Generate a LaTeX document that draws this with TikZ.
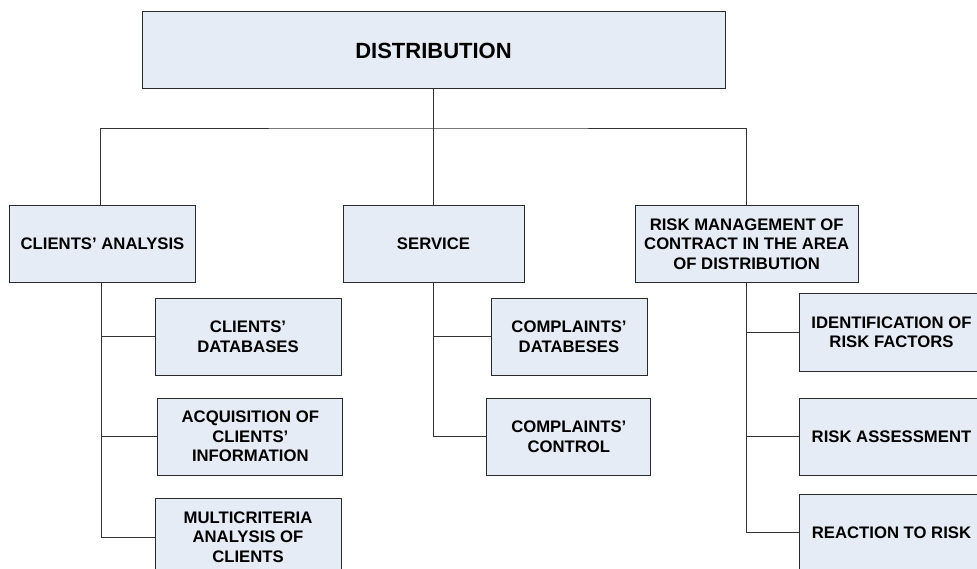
\documentclass[tikz,border=0pt]{standalone}
\usepackage{fontspec}
\setmainfont{Liberation Sans}
\definecolor{boxfill}{HTML}{E6ECF6}
\definecolor{boxline}{HTML}{2A2A2A}
\definecolor{conn}{HTML}{333333}
\begin{document}
\begin{tikzpicture}[x=1pt,y=-1pt,
  box/.style={draw=boxline,fill=boxfill,line width=1pt,inner sep=0pt,align=center,
    minimum height=77pt,font=\bfseries\fontsize{16.7}{19.5}\selectfont},
  topbox/.style={box,font=\bfseries\fontsize{22}{26}\selectfont},
  conline/.style={draw=conn,line width=0.9pt}]
\useasboundingbox (0,0) rectangle (977,569);
\clip (0,0) rectangle (977,569);
\fill[white] (0,0) rectangle (977,569);
\node[topbox,minimum width=583pt] (dist) at (433.5,50.5) {DISTRIBUTION};
\node[box,minimum width=186pt] (ca) at (102.5,244) {CLIENTS’ ANALYSIS};
\node[box,minimum width=181pt] (svc) at (433.5,244) {SERVICE};
\node[box,minimum width=223pt] (risk) at (746.7,244) {RISK MANAGEMENT OF\\CONTRACT IN THE AREA\\OF DISTRIBUTION};
\node[box,minimum width=186pt] (cdb) at (248,336.6) {CLIENTS’\\DATABASES};
\node[box,minimum width=185pt] (acq) at (250.3,436.7) {ACQUISITION OF\\CLIENTS’\\INFORMATION};
\node[box,minimum width=186pt] (mca) at (248,537.2) {MULTICRITERIA\\ANALYSIS OF\\CLIENTS};
\node[box,minimum width=156pt] (kdb) at (569,336.6) {COMPLAINTS’\\DATABESES};
\node[box,minimum width=164pt] (kctl) at (568.8,436.7) {COMPLAINTS’\\CONTROL};
\node[box,minimum width=185pt] (idf) at (891.5,332.5) {IDENTIFICATION OF\\RISK FACTORS};
\node[box,minimum width=185pt] (ras) at (891.5,436.5) {RISK ASSESSMENT};
\node[box,minimum width=185pt] (rea) at (891.5,532.8) {REACTION TO RISK};
\coordinate (bus) at (433.5,128);
\coordinate (caN) at ([xshift=-2.5pt]ca.north);
\coordinate (caS) at ([xshift=-1.5pt]ca.south);
\path[conline] (caN) |- (bus) -| (risk.north);
\path[conline] (dist.south) -- (svc.north);
\path[conline] (caS) |- (mca.west);
\path[conline] (caS |- cdb.west) -- (cdb.west);
\path[conline] (caS |- acq.west) -- (acq.west);
\path[conline] (svc.south) |- (kctl.west);
\path[conline] (svc.south |- kdb.west) -- (kdb.west);
\path[conline] (risk.south) |- (rea.west);
\path[conline] (risk.south |- idf.west) -- (idf.west);
\path[conline] (risk.south |- ras.west) -- (ras.west);
\end{tikzpicture}
\end{document}
